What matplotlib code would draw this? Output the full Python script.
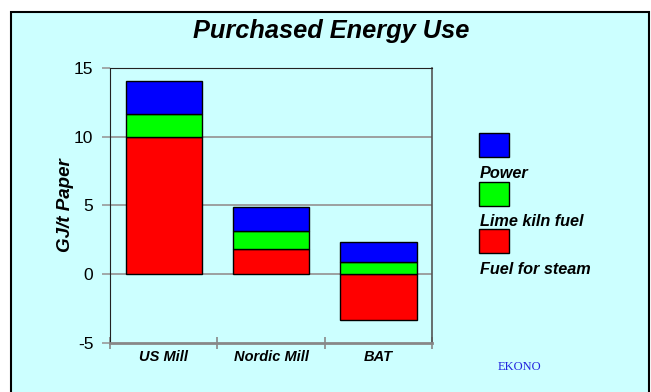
import numpy as np
import matplotlib.pyplot as plt
from matplotlib.patches import Rectangle

plt.rcParams['font.family'] = ['Liberation Sans', 'DejaVu Sans']

# values (GJ/t paper)
mills = ['US Mill', 'Nordic Mill', 'BAT']
fuel_steam = [10.0, 1.8, -3.35]
lime_kiln = [1.65, 1.35, 0.9]
power = [2.4, 1.7, 1.4]

series_names = ['Power', 'Lime kiln fuel', 'Fuel for steam']
series_colors = ['#0000FF', '#00FF00', '#FF0000']

bg = '#CCFFFF'

fig = plt.figure(figsize=(6.51, 3.92), dpi=100)
fig.patch.set_facecolor('white')
# framed light cyan panel, behind the axes
frame = Rectangle((0.017, -0.02), 0.980, 0.989, transform=fig.transFigure,
                  facecolor=bg, edgecolor='black', linewidth=1.5, zorder=-5)
fig.patches.append(frame)

ax = fig.add_axes([0.169, 0.126, 0.495, 0.700])
ax.set_facecolor(bg)

x = np.arange(len(mills))
w = 0.71
# steam at the bottom; positive stacks start from max(steam, 0)
base = np.maximum(np.array(fuel_steam), 0)
ax.bar(x, fuel_steam, w, color=series_colors[2], edgecolor='black', linewidth=1, zorder=3)
ax.bar(x, lime_kiln, w, bottom=base, color=series_colors[1], edgecolor='black', linewidth=1, zorder=3)
ax.bar(x, power, w, bottom=base + np.array(lime_kiln), color=series_colors[0],
       edgecolor='black', linewidth=1, zorder=3)

ax.set_xlim(-0.5, 2.5)
ax.set_ylim(-5, 15)
ax.set_yticks([-5, 0, 5, 10, 15])
ax.set_yticklabels(['-5', '0', '5', '10', '15'], fontsize=12.5)
for yv in [0, 5, 10]:
    ax.axhline(yv, color='#999999', linewidth=1.3, zorder=1)
ax.tick_params(axis='y', direction='out', length=6, color='#999999', width=1.2, pad=6)

ax.set_xticks(x)
ax.set_xticklabels(mills, fontsize=10.5, fontweight='bold', fontstyle='italic')
ax.set_xticks([-0.5, 0.5, 1.5, 2.5], minor=True)
ax.tick_params(axis='x', which='major', length=0, pad=5)
ax.tick_params(axis='x', which='minor', direction='inout', length=8, color='#888888', width=1.2)

ax.spines['left'].set_color('#222222')
ax.spines['top'].set_color('#222222')
ax.spines['right'].set_color('#555555')
ax.spines['bottom'].set_color('#888888')
ax.spines['bottom'].set_linewidth(2)
ax.spines['right'].set_linewidth(1.2)

ax.set_ylabel('GJ/t Paper', fontsize=13.5, fontweight='bold', fontstyle='italic', labelpad=0)

fig.text(0.509, 0.921, 'Purchased Energy Use', ha='center', va='center',
         fontsize=18.3, fontweight='bold', fontstyle='italic')

# legend: swatch with the label underneath
sw_x, sw_w, sw_h = 479 / 651, 30 / 651, 24 / 392
sw_top = [133, 182, 229]
for name, col, top in zip(series_names, series_colors, sw_top):
    fig.patches.append(Rectangle((sw_x, 1 - (top + 24) / 392), sw_w, sw_h,
                                 transform=fig.transFigure, facecolor=col,
                                 edgecolor='black', linewidth=1, zorder=2))
    fig.text(sw_x + 0.001, 1 - (top + 40) / 392, name, ha='left', va='center',
             fontsize=11.7, fontweight='bold', fontstyle='italic')

fig.text(519 / 651, 1 - 367 / 392, 'EKONO', ha='center', va='center',
         fontsize=9, color='#2222DD', family='Liberation Serif')

fig.savefig('out.png', dpi=100, facecolor=fig.get_facecolor())
